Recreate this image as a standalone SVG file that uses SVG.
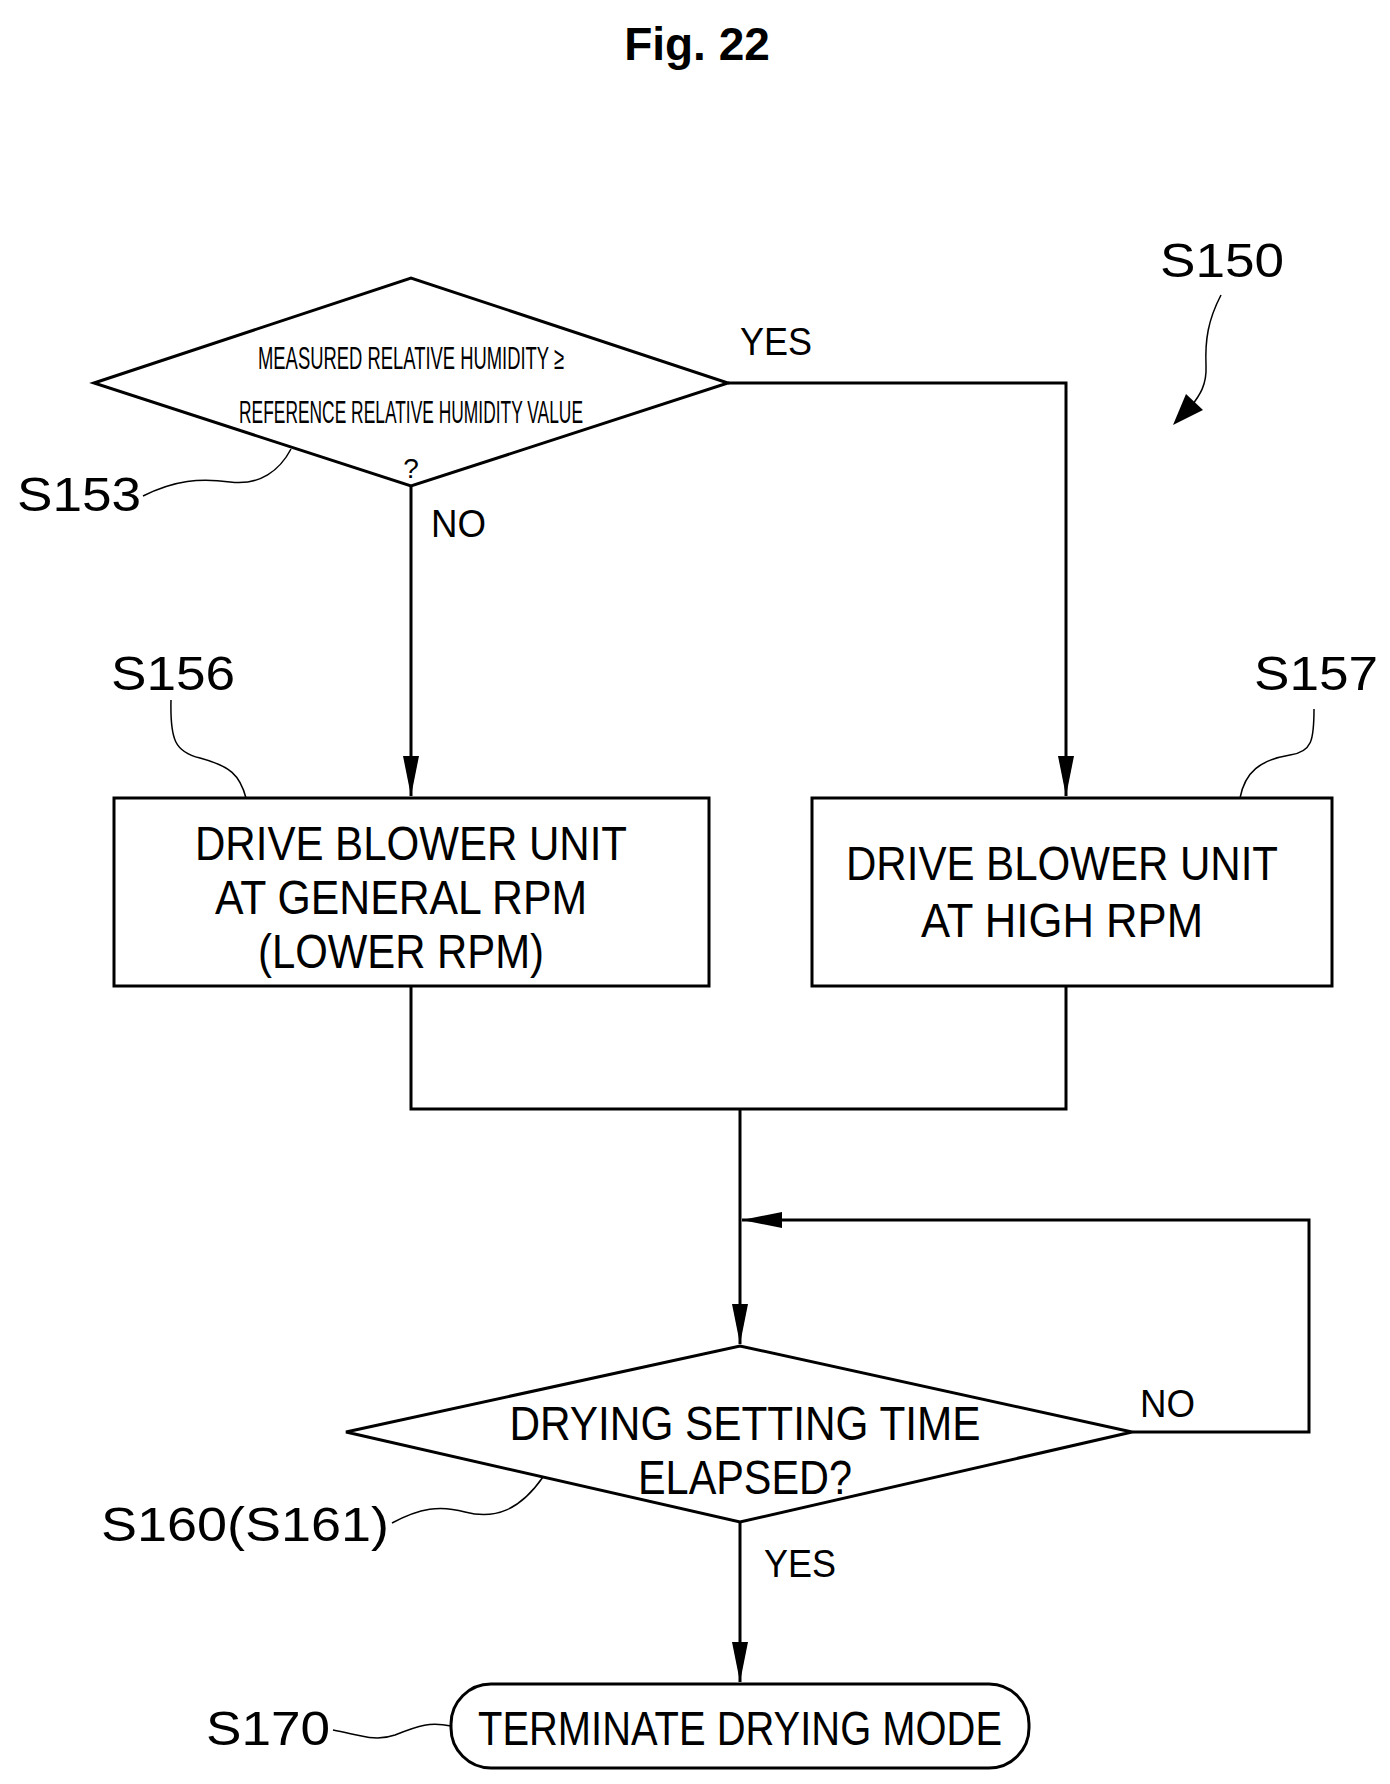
<svg xmlns="http://www.w3.org/2000/svg" width="1390" height="1784" viewBox="0 0 1390 1784">
<style>
.s{fill:none;stroke:#000;stroke-width:3}
.l{fill:none;stroke:#000;stroke-width:1.5}
text{font-family:"Liberation Sans",Arial,sans-serif;fill:#000}
.t{font-size:48px;text-anchor:middle}
.lb{font-size:48px}
.sm{font-size:38px}
</style>
<defs>
<marker id="a" viewBox="0 0 40 16" refX="40" refY="8" markerWidth="40" markerHeight="16" markerUnits="userSpaceOnUse" orient="auto"><path d="M0,0L40,8L0,16Z"/></marker>
</defs>
<rect width="1390" height="1784" fill="#fff"/>
<text x="697" y="60" font-size="46" font-weight="bold" text-anchor="middle">Fig. 22</text>
<g id="connectors">
<path class="s" d="M411,486V796" marker-end="url(#a)"/>
<path class="s" d="M728,383H1066V796" marker-end="url(#a)"/>
<path class="s" d="M411,986V1109H1066V986"/>
<path class="s" d="M740,1109V1344" marker-end="url(#a)"/>
<path class="s" d="M1132,1432H1309V1220H742" marker-end="url(#a)"/>
<path class="s" d="M740,1522V1682" marker-end="url(#a)"/>
</g>
<g id="S153">
<path class="s" d="M94,383L411,278L728,383L411,486Z"/>
<text x="411" y="369" font-size="32" text-anchor="middle" textLength="306" lengthAdjust="spacingAndGlyphs">MEASURED RELATIVE HUMIDITY ≥</text>
<text x="411" y="423" font-size="32" text-anchor="middle" textLength="344" lengthAdjust="spacingAndGlyphs">REFERENCE RELATIVE HUMIDITY VALUE</text>
<text x="411" y="478" font-size="28" text-anchor="middle">?</text>
<text class="lb" x="17" y="511" textLength="124" lengthAdjust="spacingAndGlyphs">S153</text>
<path class="l" d="M143,496C175,480 200,478 230,482C260,486 280,470 291,449"/>
</g>
<g id="S156">
<rect class="s" x="114" y="798" width="595" height="188"/>
<text class="t" x="411" y="860" textLength="432" lengthAdjust="spacingAndGlyphs">DRIVE BLOWER UNIT</text>
<text class="t" x="401" y="914" textLength="372" lengthAdjust="spacingAndGlyphs">AT GENERAL RPM</text>
<text class="t" x="401" y="968" textLength="286" lengthAdjust="spacingAndGlyphs">(LOWER RPM)</text>
<text class="lb" x="111" y="690" textLength="124" lengthAdjust="spacingAndGlyphs">S156</text>
<path class="l" d="M171,700C170,740 175,752 200,758C230,766 240,775 246,798"/>
</g>
<g id="S157">
<rect class="s" x="812" y="798" width="520" height="188"/>
<text class="t" x="1062" y="880" textLength="432" lengthAdjust="spacingAndGlyphs">DRIVE BLOWER UNIT</text>
<text class="t" x="1062" y="937" textLength="282" lengthAdjust="spacingAndGlyphs">AT HIGH RPM</text>
<text class="lb" x="1254" y="690" textLength="124" lengthAdjust="spacingAndGlyphs">S157</text>
<path class="l" d="M1314,709C1314,740 1312,752 1290,755C1260,760 1245,772 1240,798"/>
</g>
<g id="S160">
<path class="s" d="M346,1432L740,1346L1132,1432L740,1522Z"/>
<text class="t" x="745" y="1440" textLength="471" lengthAdjust="spacingAndGlyphs">DRYING SETTING TIME</text>
<text class="t" x="745" y="1494" textLength="214" lengthAdjust="spacingAndGlyphs">ELAPSED?</text>
<text class="lb" x="101" y="1541" textLength="288" lengthAdjust="spacingAndGlyphs">S160(S161)</text>
<path class="l" d="M392,1523C420,1508 440,1505 465,1512C495,1520 520,1510 543,1477"/>
</g>
<g id="S170">
<rect class="s" x="451" y="1684" width="578" height="84" rx="40"/>
<text class="t" x="740" y="1745" textLength="524" lengthAdjust="spacingAndGlyphs">TERMINATE DRYING MODE</text>
<text class="lb" x="206" y="1745" textLength="124" lengthAdjust="spacingAndGlyphs">S170</text>
<path class="l" d="M333,1730C360,1735 375,1742 395,1735C420,1725 430,1722 451,1726"/>
</g>
<g id="labels">
<text class="sm" x="740" y="355" textLength="72" lengthAdjust="spacingAndGlyphs">YES</text>
<text class="sm" x="431" y="537" textLength="55" lengthAdjust="spacingAndGlyphs">NO</text>
<text class="sm" x="1140" y="1417" textLength="55" lengthAdjust="spacingAndGlyphs">NO</text>
<text class="sm" x="764" y="1577" textLength="72" lengthAdjust="spacingAndGlyphs">YES</text>
</g>
<g id="S150">
<text class="lb" x="1160" y="277" textLength="124" lengthAdjust="spacingAndGlyphs">S150</text>
<path class="l" d="M1221,295C1208,320 1205,340 1206,365C1207,385 1200,395 1190,408"/>
<path d="M1173,425L1186,394L1203,410Z"/>
</g>
</svg>
